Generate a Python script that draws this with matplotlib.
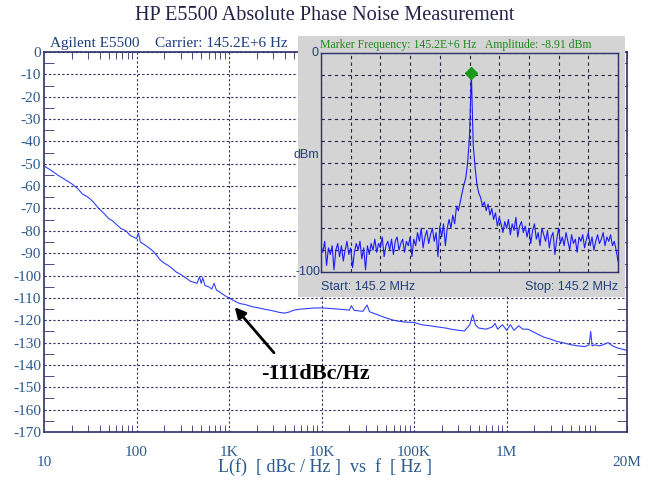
import numpy as np
import matplotlib.pyplot as plt
from matplotlib.patches import Rectangle
from matplotlib.ticker import FixedLocator, NullFormatter

# main phase-noise trace: offset frequency (Hz) and L(f) (dBc/Hz)
freq = [10, 12, 14, 16, 18, 20, 23, 26, 30, 34, 39, 44, 50, 55, 60, 68, 77, 85, 95,
        100, 105, 110, 120, 135, 150, 165, 180, 200, 220, 245, 270, 300, 340, 380,
        450, 480, 500, 520, 550, 600, 650, 690, 730, 800, 900, 1000, 1100, 1300,
        1500, 1800, 2100, 2500, 3000, 3500, 4000, 4500, 5000, 6000, 7000, 8500,
        10000, 12000, 15000, 18000, 20000, 21000, 22500, 28000, 31000, 33000,
        40000, 50000, 60000, 70000, 80000, 100000, 120000, 150000, 180000, 220000,
        250000, 300000, 350000, 400000, 430000, 460000, 500000, 600000, 700000,
        750000, 800000, 900000, 1.0e6, 1.1e6, 1.2e6, 1.35e6, 1.5e6, 1.7e6, 2e6,
        2.5e6, 3e6, 3.5e6, 4e6, 5e6, 6e6, 7e6, 7.8e6, 8.1e6, 8.4e6, 9e6, 10e6,
        11e6, 12.5e6, 14e6, 16e6, 18e6, 20e6]
noise = [-51, -53, -55, -56.5, -57.8, -59, -61, -63.5, -65, -67, -70, -72, -74.5,
         -75.5, -77, -79, -80, -82, -83, -83.5, -81, -85, -86, -87.5, -89, -91, -93,
         -94.5, -95.5, -97, -98.5, -99.5, -101, -102.5, -103.5, -100.5, -103.5,
         -101, -104.5, -105, -106, -103.5, -106.5, -107.5, -109, -110, -111,
         -112.5, -113, -114, -114.5, -115.2, -115.8, -116.5, -116.8, -116.3,
         -115.5, -115, -114.8, -114.5, -114.5, -114.7, -115, -115.3, -115.5,
         -113.5, -115.6, -116, -113.2, -116.2, -117.5, -119, -120, -120.5, -120.8,
         -121, -122, -122.5, -123, -123.5, -124, -124.5, -124.8, -122, -117.5,
         -122, -123.5, -124, -123, -121.5, -124, -122, -124.5, -122, -124.5,
         -122.5, -124, -124, -125.5, -127.5, -128.5, -129.5, -130, -131, -131.5,
         -131.8, -131, -125, -131.5, -131, -131.5, -131, -130, -131.5, -132.5,
         -133, -133.5]

# inset spectrum (dBm), equally spaced sweep points from start to stop
spec = [-88, -91, -86, -97, -89, -92, -88, -99, -90, -87,
        -93, -88, -95, -90, -86, -92, -89, -98, -91, -87,
        -90, -86, -94, -89, -99, -88, -92, -87, -90, -85,
        -91, -87, -89, -84, -93, -88, -86, -90, -85, -92,
        -86, -84, -90, -87, -85, -91, -86, -88, -84, -93,
        -85, -88, -82, -86, -80, -89, -84, -81, -87, -83,
        -80, -86, -82, -93, -79, -84, -78, -88, -80, -76,
        -80, -74, -78, -70, -72, -68, -64, -60, -57, -50,
        -38, -9, -42, -52, -60, -64, -66, -70, -68, -72,
        -69, -74, -71, -76, -73, -79, -75, -78, -82, -77,
        -80, -76, -83, -78, -81, -75, -84, -79, -77, -82,
        -79, -84, -80, -87, -81, -78, -85, -82, -88, -80,
        -83, -86, -81, -89, -84, -82, -92, -85, -80, -87,
        -84, -88, -82, -86, -90, -83, -87, -85, -91, -84,
        -86, -83, -89, -85, -82, -88, -84, -90, -86, -83,
        -87, -85, -82, -88, -84, -86, -83, -88, -86, -90, -95]
marker_amp = -8.91

xtick_pos = [100, 1e3, 1e4, 1e5, 1e6]
xtick_lab = ['100', '1K', '10K', '100K', '1M']

navy = '#30306a'
lblue = '#2a5a8e'
serif = ['Liberation Serif', 'DejaVu Serif']
sans = ['Liberation Sans', 'DejaVu Sans']

fig = plt.figure(figsize=(6.5, 4.83), dpi=100)
W, H = 650, 483

def fx(px):
    return px / W

def fy(py):
    return 1 - py / H

ax = fig.add_axes([fx(44), fy(432), fx(627 - 44), (432 - 52) / H], zorder=0)
ax.plot(freq, noise, color='#3040ff', lw=0.8)
ax.set_xscale('log')
ax.set_xlim(10, 20e6)
ax.set_ylim(-170, 0)
ax.set_yticks(np.arange(-170, 1, 10))
ax.set_yticklabels([str(v) for v in range(-170, 1, 10)], fontfamily=serif,
                   fontsize=11, color=lblue)
ax.yaxis.set_minor_locator(FixedLocator(np.arange(-165, 0, 10)))
ax.tick_params(axis='y', which='major', length=0, pad=2)
ax.tick_params(axis='y', which='minor', direction='in', length=7, color=navy,
               left=True, right=True)
ax.set_xticks(xtick_pos)
ax.set_xticklabels(xtick_lab, fontfamily=serif, fontsize=11, color=lblue)
ax.tick_params(axis='x', which='major', length=0, pad=10)
ax.tick_params(axis='x', which='minor', direction='in', length=5, color=navy,
               top=True, bottom=True)
ax.xaxis.set_minor_formatter(NullFormatter())
ax.grid(True, which='major', color=navy, ls=(0, (2, 2)), lw=0.8)
for s in ax.spines.values():
    s.set_color(navy)
    s.set_linewidth(1.2)

tr = ax.get_xaxis_transform()
ax.text(10, -0.08, '10', transform=tr, ha='center', va='center',
        fontfamily=serif, fontsize=11, color=lblue)
ax.text(20e6, -0.08, '20M', transform=tr, ha='center', va='center',
        fontfamily=serif, fontsize=11, color=lblue)

ax.annotate('', xy=(1.1e3, -113.2), xytext=(3.2e3, -135.5),
            arrowprops=dict(arrowstyle='-|>', color='black', lw=2,
                            mutation_scale=16))
ax.text(2.2e3, -144, '-111dBc/Hz', fontfamily=serif, fontsize=16,
        fontweight='bold', ha='left', va='center', color='black')

fig.text(0.5, fy(15), 'HP E5500 Absolute Phase Noise Measurement',
         ha='center', va='center', fontfamily=serif, fontsize=14.6, color='#22224a')
fig.text(fx(50), fy(44), 'Agilent E5500    Carrier: 145.2E+6 Hz',
         ha='left', va='center', fontfamily=serif, fontsize=11, color='#1f3f7f')
fig.text(fx(325), fy(467), 'L(f)  [ dBc / Hz ]  vs  f  [ Hz ]',
         ha='center', va='center', fontfamily=serif, fontsize=13, color=lblue)

# inset spectrum panel
fig.patches.append(Rectangle((fx(298), fy(297)), fx(625 - 298), (297 - 36) / H,
                             transform=fig.transFigure, facecolor='#d4d4d4',
                             edgecolor='none', zorder=1))
ins = fig.add_axes([fx(321), fy(272), fx(618 - 321), (272 - 53) / H], zorder=2)
ins.set_facecolor('#d4d4d4')
xs = np.linspace(0, 1, len(spec))
ins.plot(xs, spec, color='#1a1aff', lw=0.8)
ins.plot([xs[spec.index(max(spec))]], [marker_amp], marker='D', ms=6,
         color='#1a9a1a', mec='#1a9a1a')
ins.set_xlim(0, 1)
ins.set_ylim(-100, 0)
ins.set_xticks(np.linspace(0, 1, 11))
ins.set_yticks(np.arange(-100, 1, 10))
ins.tick_params(length=0, labelleft=False, labelbottom=False)
ins.grid(True, color='#202040', ls=(0, (3, 3)), lw=0.8)
for s in ins.spines.values():
    s.set_color(navy)
    s.set_linewidth(1.0)

fig.text(fx(319), fy(53), '0', ha='right', va='center', fontfamily=sans,
         fontsize=9, color='#1f3f7f', zorder=3)
fig.text(fx(321), fy(272), '-100', ha='right', va='center', fontfamily=sans,
         fontsize=9, color='#1f3f7f', zorder=3)
fig.text(fx(319), fy(155), 'dBm', ha='right', va='center', fontfamily=sans,
         fontsize=9, color='#1f3f7f', zorder=3)
fig.text(fx(321), fy(287), 'Start: 145.2 MHz', ha='left', va='center',
         fontfamily=sans, fontsize=9, color='#1f3f7f', zorder=3)
fig.text(fx(618), fy(287), 'Stop: 145.2 MHz', ha='right', va='center',
         fontfamily=sans, fontsize=9, color='#1f3f7f', zorder=3)
fig.text(fx(320), fy(45), 'Marker Frequency: 145.2E+6 Hz   Amplitude: -8.91 dBm',
         ha='left', va='center', fontfamily=serif, fontsize=8.5,
         color='#1a8a1a', zorder=3)

fig.savefig('out.png', dpi=100)
